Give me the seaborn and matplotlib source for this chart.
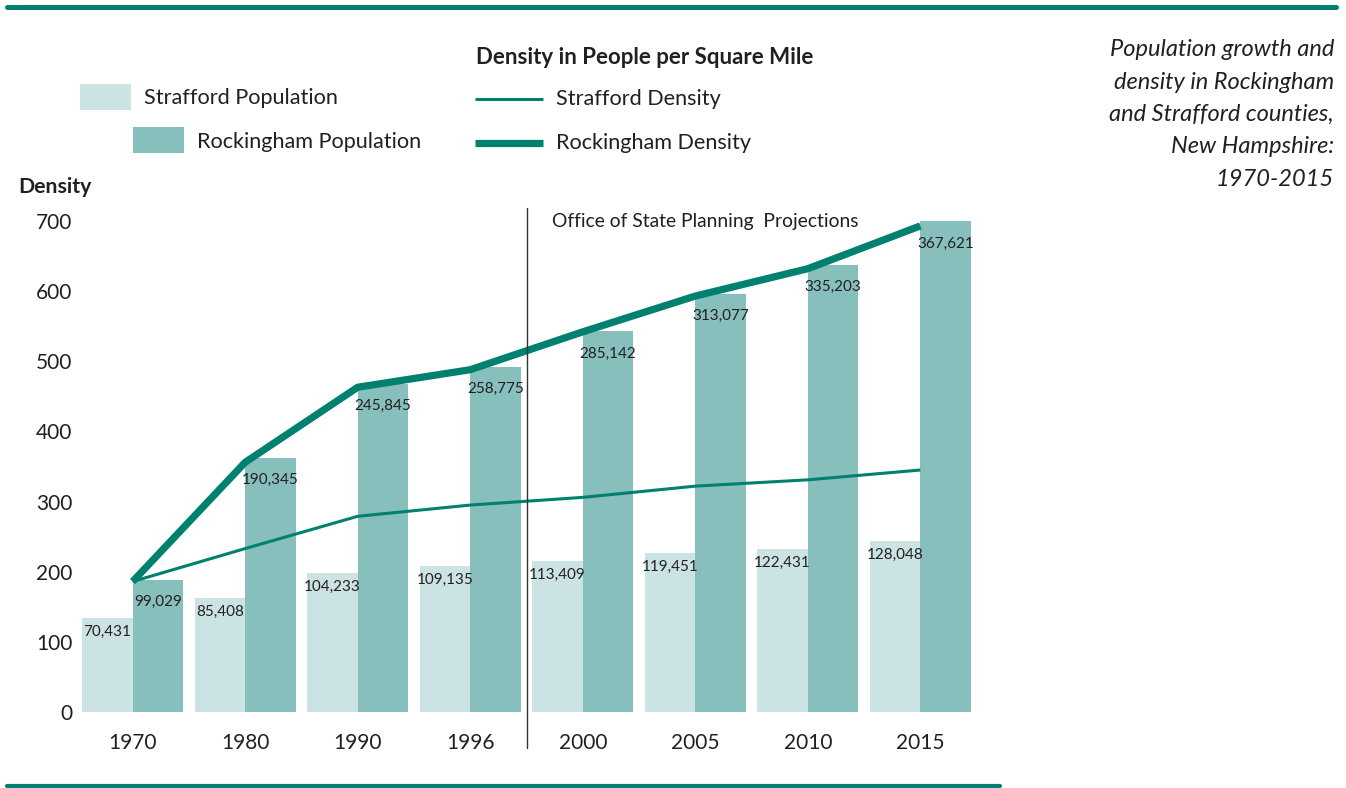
import numpy as np
import pandas as pd
import matplotlib
matplotlib.use("Agg")
import matplotlib.pyplot as plt
from matplotlib.lines import Line2D
from matplotlib.patches import Rectangle
import seaborn as sns

# ---- data ----
years = ['1970', '1980', '1990', '1996', '2000', '2005', '2010', '2015']
strafford_pop = [70431, 85408, 104233, 109135, 113409, 119451, 122431, 128048]
rockingham_pop = [99029, 190345, 245845, 258775, 285142, 313077, 335203, 367621]
strafford_density = [186, 233, 279, 295, 306, 322, 331, 345]
rockingham_density = [186, 356, 463, 488, 542, 593, 632, 693]
density_ticks = [0, 100, 200, 300, 400, 500, 600, 700]
series_names = ['Strafford Population', 'Rockingham Population']

# ---- style ----
sns.set_theme(style='white')
plt.rcParams['font.family'] = ['Lato', 'DejaVu Sans']
TEXT = '#231f20'
TEAL = '#00806f'
LIGHT = '#cce3e3'
MID = '#87bfbd'

W, H = 1346, 788
fig = plt.figure(figsize=(W / 100, H / 100), dpi=100)
fx = lambda px: px / W
fy = lambda py: 1 - py / H

ax = fig.add_axes([fx(82), fy(712), (971 - 82) / W, (712 - 221) / H])

df = pd.DataFrame({
    'Year': years * 2,
    'Population': strafford_pop + rockingham_pop,
    'County': [series_names[0]] * len(years) + [series_names[1]] * len(years),
})
sns.barplot(data=df, x='Year', y='Population', hue='County', palette=[LIGHT, MID],
            width=0.9, saturation=1, errorbar=None, legend=False, ax=ax, linewidth=0)
ax.set_xlim(-0.45, len(years) - 0.55)
ax.set_ylim(0, 700 * 525.5)
ax.set_yticks([])
ax.set_xlabel('')
ax.set_ylabel('')
ax.tick_params(axis='x', length=0, pad=15, labelsize=15, colors=TEXT)
for s in ax.spines.values():
    s.set_visible(False)

# value labels inside bars
label_font = dict(size=11, color=TEXT)
offsets = [10, 16]
for cont, off in zip(ax.containers, offsets):
    for bar in cont:
        h = bar.get_height()
        ax.annotate(f"{int(round(h)):,}", xy=(bar.get_x() + bar.get_width() / 2, h),
                    xytext=(0, -off), textcoords='offset points',
                    ha='center', va='center', **label_font)

# density lines on twin axis
ax2 = ax.twinx()
xpos = np.arange(len(years))
sns.lineplot(x=xpos, y=strafford_density, ax=ax2, color=TEAL, lw=2.2, solid_capstyle='butt')
sns.lineplot(x=xpos, y=rockingham_density, ax=ax2, color=TEAL, lw=5.2, solid_capstyle='butt')
ax2.set_ylim(0, 700)
ax2.set_yticks(density_ticks)
ax2.yaxis.tick_left()
ax2.tick_params(axis='y', length=0, pad=7, labelsize=15, colors=TEXT)
ax2.set_xlim(-0.45, len(years) - 0.55)
for s in ax2.spines.values():
    s.set_visible(False)

# projection divider
ax2.axvline(3.5, ymin=-0.073, ymax=1.026, color='#333333', lw=1, clip_on=False)
ax2.text(3.73, 1.0, 'Office of State Planning  Projections', transform=ax2.get_xaxis_transform(),
         ha='left', va='center', fontsize=13.9, color=TEXT)

# axis title
fig.text(fx(18), fy(187), 'Density', ha='left', va='center', fontsize=15.3, fontweight='bold', color=TEXT)

# rules
fig.add_artist(Line2D([fx(7), fx(1336)], [fy(7), fy(7)], color=TEAL, lw=3.6))
fig.add_artist(Line2D([fx(7), fx(1000)], [fy(786), fy(786)], color=TEAL, lw=3))

# legend: bars
fig.add_artist(Rectangle((fx(80), fy(110)), 51 / W, 26 / H, transform=fig.transFigure, color=LIGHT, lw=0))
fig.add_artist(Rectangle((fx(133), fy(153)), 51 / W, 26 / H, transform=fig.transFigure, color=MID, lw=0))
fig.text(fx(144), fy(98), series_names[0], ha='left', va='center', fontsize=15.6, color=TEXT)
fig.text(fx(197), fy(142), series_names[1], ha='left', va='center', fontsize=15.6, color=TEXT)

# legend: lines
fig.text(fx(476), fy(58), 'Density in People per Square Mile', ha='left', va='center',
         fontsize=16, fontweight='bold', color=TEXT)
fig.add_artist(Line2D([fx(475), fx(543)], [fy(99), fy(99)], color=TEAL, lw=2.2, solid_capstyle='butt'))
fig.add_artist(Line2D([fx(475), fx(543)], [fy(143), fy(143)], color=TEAL, lw=5.2, solid_capstyle='butt'))
fig.text(fx(556), fy(99), 'Strafford Density', ha='left', va='center', fontsize=15.6, color=TEXT)
fig.text(fx(556), fy(143), 'Rockingham Density', ha='left', va='center', fontsize=15.6, color=TEXT)

# title block
title_lines = ['Population growth and', 'density in Rockingham', 'and Strafford counties,',
               'New Hampshire:', '1970-2015']
for i, line in enumerate(title_lines):
    fig.text(fx(1334), fy(50 + i * 32.3), line, ha='right', va='center', fontsize=17,
             style='italic', color=TEXT)

fig.savefig('out.png', dpi=100)
